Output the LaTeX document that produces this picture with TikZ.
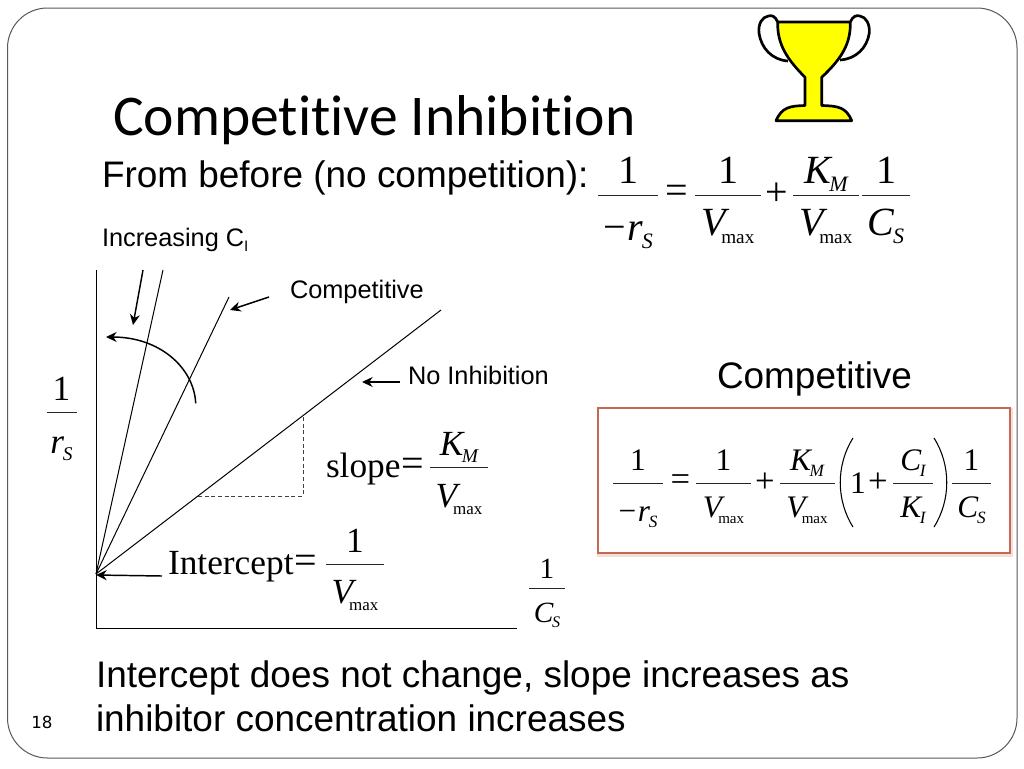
\documentclass[tikz,border=0pt]{standalone}
\usepackage{fontspec}
\usepackage{graphicx}
\setmainfont{Liberation Serif}
\newfontfamily\arialf{Liberation Sans}
\newfontfamily\titlef[Ligatures=NoCommon]{Carlito}
\newfontfamily\pagef{DejaVu Sans}
\usetikzlibrary{arrows.meta}
\definecolor{cupyellow}{RGB}{255,255,0}
\definecolor{boxedge}{RGB}{196,104,84}
\definecolor{boxglow}{RGB}{245,222,216}
\newcommand{\Sb}[1]{\raisebox{-.2em}{\scalebox{.55}{\itshape #1}}}
\newcommand{\Vmax}{{\itshape V}\kern-.12em\raisebox{-.2em}{\scalebox{.48}{max}}}
\newcommand{\Km}{{\itshape K}\kern-.04em\Sb{M}}
\newcommand{\Cs}{{\itshape C}\kern-.04em\Sb{S}}
\newcommand{\rs}{{\itshape r}\kern-.04em\Sb{S}}
\newcommand{\fsz}[1]{\fontsize{#1}{#1}\selectfont}
% name, font style, x, y of rule, half width, baseline num, baseline den, num, den
\newcommand{\fracat}[9]{%
  \node[#2,anchor=base] (#1-n) at (#3,#6) {#8};
  \coordinate (#1-l) at (#3-#5,#4);
  \coordinate (#1-r) at (#3+#5,#4);
  \draw[fracrule] (#1-l) -- (#1-r);
  \node[#2,anchor=base] (#1-d) at (#3,#7) {#9};
}
\tikzset{
  x=.75pt,y=-.75pt,
  every node/.style={inner sep=0pt,outer sep=0pt},
  fracrule/.style={line width=.6pt,draw=black!85},
  eqA/.style={font=\rmfamily\fsz{30}},
  eqB/.style={font=\rmfamily\fsz{23.5}},
  eqC/.style={font=\rmfamily\fsz{26.5}},
  eqD/.style={font=\rmfamily\fsz{22}},
  opA/.style={font=\rmfamily\fsz{30}},
  opB/.style={font=\rmfamily\fsz{26}},
  opC/.style={font=\rmfamily\fsz{30}},
  sansL/.style={font=\arialf\fsz{27.7},anchor=base west},
  sansS/.style={font=\arialf\fsz{19},anchor=base west},
  thinline/.style={line width=.75pt,draw=black},
  ptr/.style={line width=1.1pt,draw=black,-{Stealth[length=8pt,width=7.5pt]}},
  parenline/.style={line width=.8pt,draw=black},
  cup/.style={line width=2pt,draw=black,line join=round},
}
\begin{document}
\begin{tikzpicture}
\useasboundingbox (0,0) rectangle (1024,768);
\fill[white] (0,0) rectangle (1024,768);
\draw[line width=.75pt,draw=black!65,rounded corners=30pt] (7.5,8) rectangle (1017,758);

% trophy
\draw[cup,fill=white] (777.7,22) .. controls (775,16) and (772,15) .. (768.3,16)
  .. controls (762,17) and (758,24) .. (759,33)
  .. controls (761,48) and (772,60) .. (788,61);
\draw[cup,fill=white] (850.3,22) .. controls (853,16) and (856,15) .. (860,16)
  .. controls (866,17) and (870,24) .. (869.3,33)
  .. controls (867,48) and (856,59) .. (840,60);
\draw[cup,fill=cupyellow] (777.7,22) -- (850.3,22)
  .. controls (851,45) and (840,60) .. (821.7,77.3)
  -- (821.7,105.5) .. controls (838,106) and (846,107) .. (851.7,120.7)
  -- (776,120.7) .. controls (782,107) and (790,106) .. (805,105.5)
  -- (805,77.3) .. controls (788,60) and (777,45) .. (777.7,22) -- cycle;

% texts
\node[font=\titlef\fsz{43.2},anchor=base west] (title) at (113,135) {Competitive Inhibition};
\node[sansL] (before) at (102,187) {From before (no competition):};
\node[sansS] (incr) at (102,246) {Increasing C\raisebox{-.22em}{\scalebox{.6}{I}}};
\node[sansS] (comp) at (290,298) {Competitive};
\node[sansS] (noinh) at (408,384) {No Inhibition};
\node[sansL] (compR) at (717,388) {Competitive};
\node[sansL] (conc1) at (96,687) {Intercept does not change, slope increases as};
\node[sansL] (conc2) at (96,731) {inhibitor concentration increases};
\node[font=\pagef\fsz{12.5},anchor=base] (pg) at (42,728) {18};

% top equation
\fracat{ta}{eqA}{628}{195}{30}{183}{240}{1}{−\kern.05em\rs}
\fracat{tb}{eqA}{728}{195}{33}{183}{235}{1}{\Vmax}
\fracat{tc}{eqA}{826}{195}{33}{183}{235}{\Km}{\Vmax}
\fracat{td}{eqA}{886}{195}{24}{183}{235}{1}{\Cs}
\node[opA] (teq) at (677,194) {=};
\node[opA] (tpl) at (777,194) {+};

% axes
\coordinate (ytop) at (96,270);
\coordinate (orig) at (96,628);
\coordinate (xend) at (517,628);
\draw[thinline] (ytop) -- (orig) -- (xend);
\coordinate (o) at (96,574);
\coordinate (l1) at (163,270);
\coordinate (l2) at (229,297);
\coordinate (l3) at (441,310);
\draw[thinline] (o) -- (l1);
\draw[thinline] (o) -- (l2);
\draw[thinline] (o) -- (l3);
\coordinate (d1) at (198,496);
\coordinate (d2) at (303,496);
\coordinate (d3) at (303,417);
\draw[line width=.6pt,densely dashed,draw=black!75] (d1) -- (d2) -- (d3);

% pointers
\coordinate (a1s) at (143,270); \coordinate (a1e) at (133,325);
\draw[ptr] (a1s) -- (a1e);
\coordinate (a2s) at (269,297); \coordinate (a2e) at (230,310);
\draw[ptr] (a2s) -- (a2e);
\coordinate (a3s) at (400,382); \coordinate (a3e) at (362,382);
\draw[ptr] (a3s) -- (a3e);
\coordinate (a4s) at (162,576); \coordinate (a4e) at (96,575);
\draw[ptr] (a4s) -- (a4e);
\coordinate (a5s) at (195.7,403.3); \coordinate (a5e) at (106,337);
\draw[ptr] (a5s) .. controls (194,368) and (160,337) .. (a5e);

% left fraction, slope, intercept, x label
\fracat{ya}{eqC}{61.5}{412}{15}{400}{453}{1}{\rs}
\node[eqC,anchor=base west] (slope) at (326,477) {slope};
\node[opC] (sleq) at (413,467) {=};
\fracat{sl}{eqC}{459}{467}{29}{455}{507}{\Km}{\Vmax}
\node[eqC,anchor=base west] (inter) at (168,574) {Intercept};
\node[opC] (iceq) at (306,564) {=};
\fracat{ic}{eqC}{355}{564}{29}{552}{603}{1}{\Vmax}
\fracat{xa}{eqD}{547}{588}{18}{578}{622}{1}{\Cs}

% boxed equation
\draw[line width=3pt,draw=boxglow] (599,409.5) rectangle (1011,555);
\draw[line width=.9pt,draw=boxedge,fill=white] (598,408) rectangle (1010,553);
\fracat{ba}{eqB}{638}{483}{25}{470}{521}{1}{−\kern.05em\rs}
\fracat{bb}{eqB}{723.5}{483}{27.5}{470}{517}{1}{\Vmax}
\fracat{bc}{eqB}{807}{483}{27.5}{470}{517}{\Km}{\Vmax}
\fracat{bd}{eqB}{913}{483}{20}{470}{517}{{\itshape C}\kern-.04em\Sb{I}}{{\itshape K}\kern-.04em\Sb{I}}
\fracat{be}{eqB}{971.5}{483}{19.5}{470}{517}{1}{\Cs}
\node[opB] (beq) at (680.5,483) {=};
\node[opB] (bpl) at (765,483) {+};
\node[eqB,anchor=base] (bone) at (858,493) {1};
\node[opB] (bpl2) at (878,483) {+};
\draw[parenline] (853,438) .. controls (836,465) and (836,500) .. (853,527);
\draw[parenline] (934,438) .. controls (951,465) and (951,500) .. (934,527);
\end{tikzpicture}
\end{document}
